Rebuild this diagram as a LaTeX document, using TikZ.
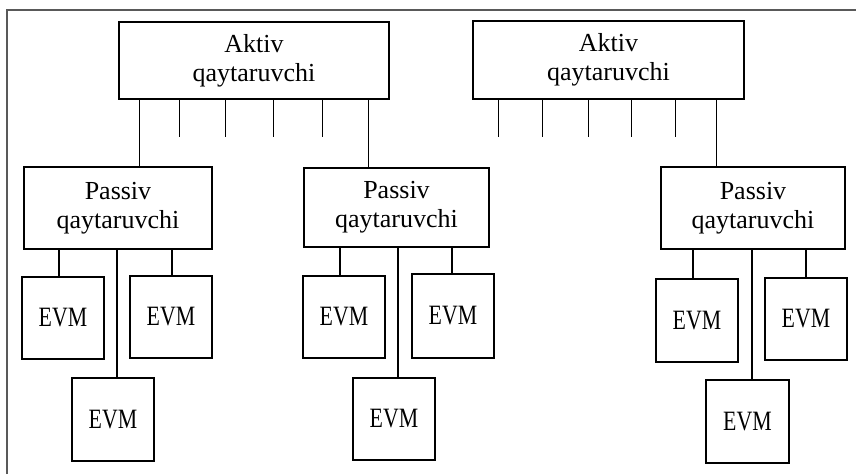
\documentclass[tikz,border=0pt]{standalone}
\usepackage{fontspec}
\setmainfont{Liberation Serif}
\begin{document}
\begin{tikzpicture}[x=1pt,y=-1pt,
  box/.style={draw,line width=2pt,inner sep=0pt,align=center,font=\fontsize{26}{29}\selectfont},
  evm/.style={draw,line width=2pt,inner sep=0pt,minimum width=82pt,minimum height=82pt,font=\fontsize{28}{30}\selectfont},
  thin/.style={line width=1pt},
  thick/.style={line width=2pt},
  frame/.style={draw=black!65,line width=1.3pt}]
\useasboundingbox (0,0) rectangle (856,474);
\draw[frame] (7,474) -- (7,10) -- (856,10);
% active repeaters
\node[box,minimum width=270pt,minimum height=77pt] (A1) at (254,60.5) {Aktiv\\qaytaruvchi};
\node[box,minimum width=271pt,minimum height=78pt] (A2) at (608.5,60) {Aktiv\\qaytaruvchi};
% passive repeaters
\node[box,minimum width=188pt,minimum height=82pt] (P1) at (118,208) {Passiv\\qaytaruvchi};
\node[box,minimum width=185pt,minimum height=79pt] (P2) at (396.5,207.5) {Passiv\\qaytaruvchi};
\node[box,minimum width=184pt,minimum height=82pt] (P3) at (753,208) {Passiv\\qaytaruvchi};
% computers
\node[evm] (E1) at (63,318) {\scalebox{0.78}[1]{EVM}};
\node[evm] (E2) at (171,317) {\scalebox{0.78}[1]{EVM}};
\node[evm,minimum height=83pt] (E3) at (113,419.5) {\scalebox{0.78}[1]{EVM}};
\node[evm] (E4) at (344,317) {\scalebox{0.78}[1]{EVM}};
\node[evm] (E5) at (394,419) {\scalebox{0.78}[1]{EVM}};
\node[evm,minimum height=84pt] (E6) at (453,316) {\scalebox{0.78}[1]{EVM}};
\node[evm,minimum height=83pt] (E7) at (697,320.5) {\scalebox{0.78}[1]{EVM}};
\node[evm] (E8) at (806,319) {\scalebox{0.78}[1]{EVM}};
\node[evm,minimum width=83pt,minimum height=83pt] (E9) at (747.5,421.5) {\scalebox{0.78}[1]{EVM}};
% active -> passive
\draw[thin] (139,0 |- A1.south) -- (139,0 |- P1.north);
\draw[thin] (368,0 |- A1.south) -- (368,0 |- P2.north);
\draw[thin] (716,0 |- A2.south) -- (716,0 |- P3.north);
% free ports
\foreach \x in {179,225,273,322} \draw[thin] (\x,0 |- A1.south) -- ++(0,37);
\foreach \x in {498,542,588,631,675} \draw[thin] (\x,0 |- A2.south) -- ++(0,37);
% passive -> computers
\draw[thick] (59,0 |- P1.south) -- (59,0 |- E1.north);
\draw[thick] (172,0 |- P1.south) -- (172,0 |- E2.north);
\draw[thick] (117,0 |- P1.south) -- (117,0 |- E3.north);
\draw[thick] (340,0 |- P2.south) -- (340,0 |- E4.north);
\draw[thick] (398,0 |- P2.south) -- (398,0 |- E5.north);
\draw[thick] (452,0 |- P2.south) -- (452,0 |- E6.north);
\draw[thick] (693,0 |- P3.south) -- (693,0 |- E7.north);
\draw[thick] (806,0 |- P3.south) -- (806,0 |- E8.north);
\draw[thick] (752,0 |- P3.south) -- (752,0 |- E9.north);
\end{tikzpicture}
\end{document}
